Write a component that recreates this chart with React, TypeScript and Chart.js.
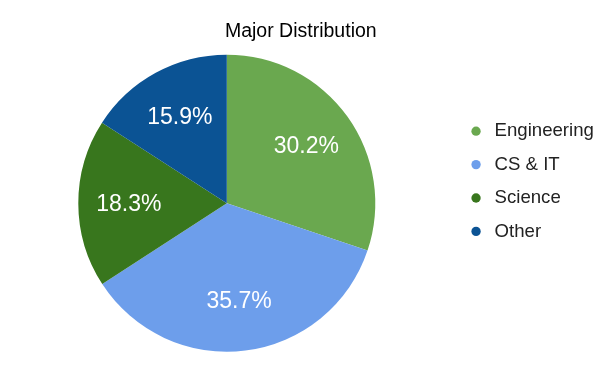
import React, { useEffect, useRef } from "react";
import { Chart, registerables } from "chart.js";

Chart.register(...registerables);

const chartTitle = "Major Distribution";
const categories = ["Engineering", "CS & IT", "Science", "Other"];
const shares = [30.2, 35.7, 18.3, 15.9];
const sliceColors = ["#6aa84f", "#6d9eeb", "#38761d", "#0b5394"];

const FONT = "'Liberation Sans', Arial, sans-serif";

const sliceLabels = {
  id: "sliceLabels",
  afterDatasetsDraw(chart: any) {
    const ctx = chart.ctx;
    const meta = chart.getDatasetMeta(0);
    const values = chart.data.datasets[0].data as number[];
    ctx.save();
    ctx.fillStyle = "#ffffff";
    ctx.font = `23px ${FONT}`;
    ctx.textAlign = "center";
    ctx.textBaseline = "middle";
    meta.data.forEach((arc: any, i: number) => {
      const { x, y, startAngle, endAngle, outerRadius } = arc.getProps(
        ["x", "y", "startAngle", "endAngle", "outerRadius"],
        true
      );
      const mid = (startAngle + endAngle) / 2;
      const r = outerRadius * 0.66;
      ctx.fillText(values[i].toFixed(1) + "%", x + Math.cos(mid) * r, y + Math.sin(mid) * r + 1);
    });
    ctx.restore();
  },
};

export default function App() {
  const canvasRef = useRef<HTMLCanvasElement | null>(null);

  useEffect(() => {
    if (!canvasRef.current) return;
    const chart = new Chart(canvasRef.current, {
      type: "pie",
      data: {
        labels: categories,
        datasets: [
          {
            data: shares,
            backgroundColor: sliceColors,
            borderWidth: 0,
            radius: 148.5,
            clip: false,
          } as any,
        ],
      },
      options: {
        responsive: false,
        animation: false,
        layout: { padding: { left: 1.6, right: 0, top: 0, bottom: 71.7 } },
        plugins: {
          title: {
            display: true,
            text: chartTitle,
            color: "#000000",
            font: { family: FONT, size: 19.5, weight: "normal" },
            padding: { top: 19.5, bottom: 64.2 },
          },
          legend: {
            position: "right",
            align: "start",
            fullSize: false,
            maxWidth: 148,
            labels: {
              usePointStyle: true,
              pointStyle: "circle",
              boxWidth: 18.5,
              boxHeight: 6.6,
              padding: 14.8,
              color: "#222222",
              font: { family: FONT, size: 18.6 },
            },
          },
          tooltip: { enabled: false },
        },
      } as any,
      plugins: [sliceLabels],
    });
    return () => chart.destroy();
  }, []);

  return (
    <div style={{ position: "fixed", left: 0, top: 0, width: 600, height: 371, background: "#ffffff" }}>
      <canvas ref={canvasRef} width={600} height={371} />
    </div>
  );
}
